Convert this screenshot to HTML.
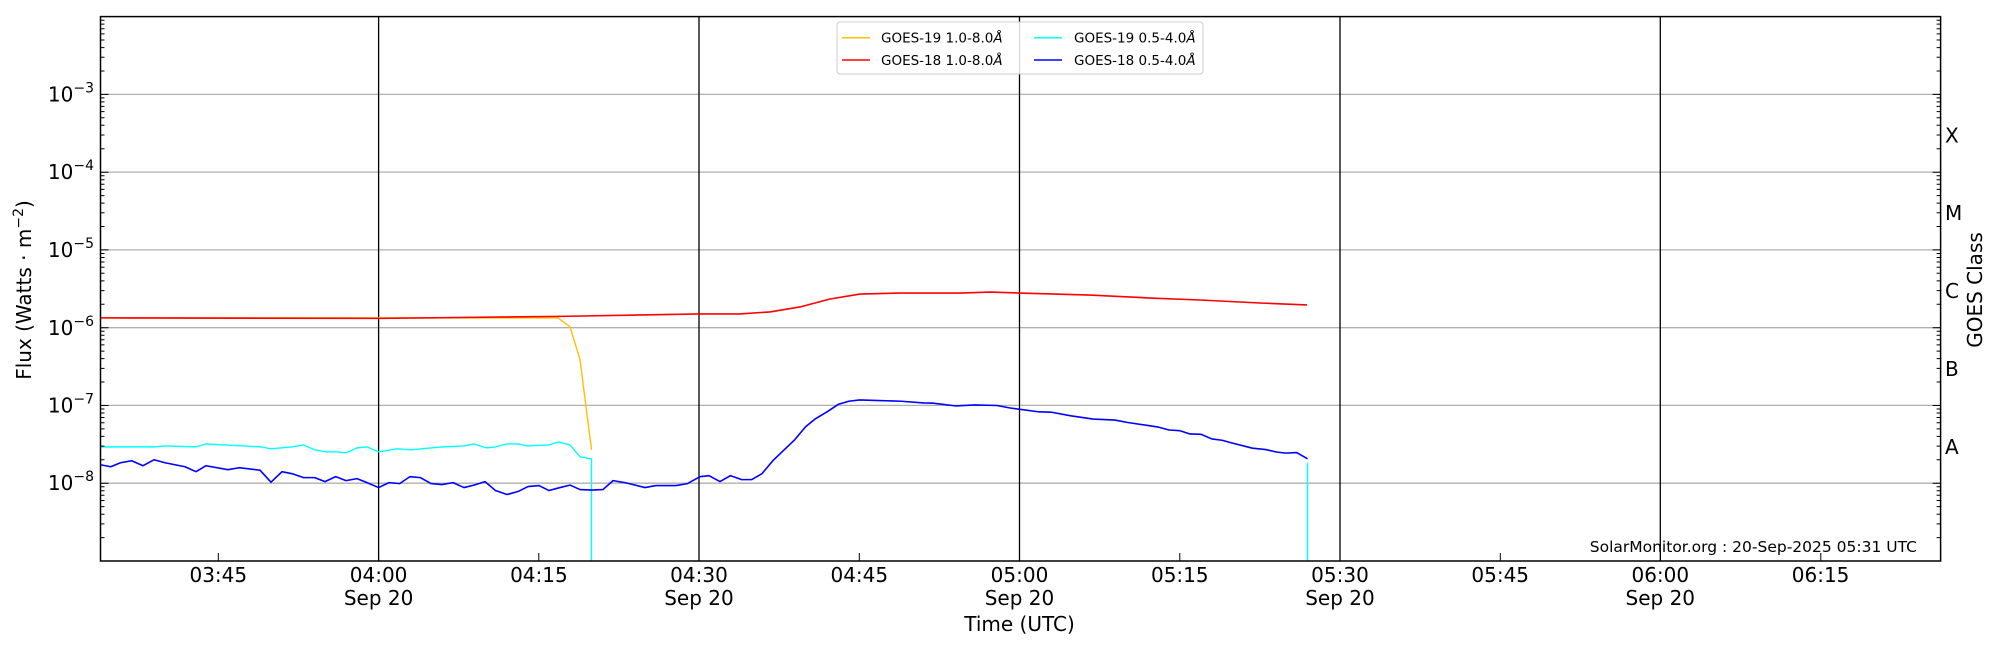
<!DOCTYPE html>
<html><head><meta charset="utf-8"><style>
html,body{margin:0;padding:0;background:#fff;}
svg{display:block;font-family:"DejaVu Sans","Liberation Sans",sans-serif;}
</style></head><body>
<svg id="s" width="2000" height="650" viewBox="0 0 2000 650" xmlns="http://www.w3.org/2000/svg">
<rect width="2000" height="650" fill="#fff"/>
<g stroke="#b0b0b0" stroke-width="1.3">
<line x1="100.5" x2="1940.6" y1="94.4" y2="94.4"/>
<line x1="100.5" x2="1940.6" y1="172.1" y2="172.1"/>
<line x1="100.5" x2="1940.6" y1="249.9" y2="249.9"/>
<line x1="100.5" x2="1940.6" y1="327.7" y2="327.7"/>
<line x1="100.5" x2="1940.6" y1="405.4" y2="405.4"/>
<line x1="100.5" x2="1940.6" y1="483.2" y2="483.2"/>
</g>
<g stroke="#000" stroke-width="1.3">
<line x1="378.6" x2="378.6" y1="16.6" y2="561"/>
<line x1="699" x2="699" y1="16.6" y2="561"/>
<line x1="1019.5" x2="1019.5" y1="16.6" y2="561"/>
<line x1="1340" x2="1340" y1="16.6" y2="561"/>
<line x1="1660.3" x2="1660.3" y1="16.6" y2="561"/>
</g>
<g fill="none" stroke-width="1.4" stroke-linejoin="round" transform="matrix(1,0,0,0.99234,0,1.32)">
<polyline stroke="#ffc000" points="101,319 558,319 570,328 580,361 591.5,452"/>
<polyline stroke="#00ffff" points="100.4,449 134,449 154,449 165,448 196,449 206,446 261,449 271,451 292,449 303.6,447 314.7,452 326,454 335,454 346,455 357,450 367,449 378.6,454 397,451 411,452 442,449 464,448 474,446 486,450 495.5,449 507,446 518,446 527,448 549,447 559,444 570,447 580,459 591.5,461 591.5,564"/>
<polyline stroke="#00ffff" points="1307.5,465 1307.5,564"/>
<polyline stroke="#ff0000" stroke-width="1.6" points="101,319 380,319.5 560,317.5 700,315 740,315 770,313 800,308 830,300 860,295 900,294 960,294 990,293 1020,294 1090,296 1150,299 1200,301 1260,304 1307,306"/>
<polyline stroke="#0000ff" stroke-width="1.6" points="100.4,467 110.7,469 120.5,465 131.7,463 143,468 154,462 165,465 185,469 196,474 206,468 228,472 239,470 260,472.5 271,484.6 282,474 292,476 303.6,480 314.7,480 325,484 335.7,479 346,483 357,481 367,485 378.6,490 389,485 399.6,486 410,479 420.5,480 431,486 442,487 453,485 464,490 474,487.5 485,484 495.5,493 507,497 518,494 528,489 539,488 549,493 560,490 570,487.5 580,492 591.5,492.5 603,492 613,483 625,485 645,490 656,488 676,488 687.5,486 700,479 709,478 720,484 730.4,478 741.7,482 751.5,482 762,476 773.7,462 794.8,441.7 805.6,428.7 815.4,420.7 827.7,413.3 838.5,406 848.8,403 859.6,401.7 879,402.3 901.4,403 923.5,404.7 933.3,405 955.4,407.7 975,406.7 997,407.3 1009.4,409.7 1019,411 1039,413.7 1051,414 1070.8,417.7 1093,421 1115,422 1127,424.3 1147,427.3 1158,429 1169,432 1180,432.7 1190,436 1201,436.3 1211.8,441 1222,442.3 1233,445.3 1252.5,450.3 1265.8,451.7 1277,454.3 1286,455.3 1296.7,454.7 1307.5,461"/>
</g>
<path id="ticks" stroke="#000" stroke-width="1" fill="none" d=""/>
<rect x="100.5" y="16.6" width="1840.1" height="544.4" fill="none" stroke="#000" stroke-width="1.5"/>
<g font-size="20" text-anchor="middle" fill="#000">
<text x="218.3" y="582">03:45</text>
<text x="378.6" y="582">04:00</text><text x="378.6" y="605">Sep 20</text>
<text x="538.9" y="582">04:15</text>
<text x="699" y="582">04:30</text><text x="699" y="605">Sep 20</text>
<text x="859.3" y="582">04:45</text>
<text x="1019.5" y="582">05:00</text><text x="1019.5" y="605">Sep 20</text>
<text x="1179.8" y="582">05:15</text>
<text x="1340" y="582">05:30</text><text x="1340" y="605">Sep 20</text>
<text x="1500.2" y="582">05:45</text>
<text x="1660.3" y="582">06:00</text><text x="1660.3" y="605">Sep 20</text>
<text x="1820.6" y="582">06:15</text>
<text x="1019.5" y="631">Time (UTC)</text>
</g>
<g font-size="20" text-anchor="end" fill="#000">
<text x="94" y="101.5">10<tspan dy="-9" font-size="14">−3</tspan></text>
<text x="94" y="179">10<tspan dy="-9" font-size="14">−4</tspan></text>
<text x="94" y="257">10<tspan dy="-9" font-size="14">−5</tspan></text>
<text x="94" y="335">10<tspan dy="-9" font-size="14">−6</tspan></text>
<text x="94" y="412.5">10<tspan dy="-9" font-size="14">−7</tspan></text>
<text x="94" y="490">10<tspan dy="-9" font-size="14">−8</tspan></text>
</g>
<text transform="translate(31,290) rotate(-90)" font-size="20" text-anchor="middle">Flux (Watts · m<tspan dy="-8" font-size="14">−2</tspan><tspan dy="8">)</tspan></text>
<g font-size="20" fill="#000">
<text x="1945" y="142.5">X</text>
<text x="1945" y="220">M</text>
<text x="1945" y="298">C</text>
<text x="1945" y="376">B</text>
<text x="1945" y="454">A</text>
</g>
<text transform="translate(1982,290) rotate(-90)" font-size="20" text-anchor="middle">GOES Class</text>
<text x="1917" y="552" font-size="15.5" text-anchor="end">SolarMonitor.org : 20-Sep-2025 05:31 UTC</text>
<rect x="837" y="22" width="366" height="52" rx="3" fill="#fff" fill-opacity="0.85" stroke="#ccc" stroke-width="1"/>
<g stroke-width="1.5">
<line x1="842" x2="870" y1="37.7" y2="37.7" stroke="#ffc000"/>
<line x1="842" x2="870" y1="60" y2="60" stroke="#ff0000"/>
<line x1="1034" x2="1062" y1="37.7" y2="37.7" stroke="#00ffff"/>
<line x1="1034" x2="1062" y1="60" y2="60" stroke="#0000ff"/>
</g>
<g font-size="13.5" fill="#000">
<text x="881" y="42.5">GOES-19 1.0-8.0<tspan font-style="italic">Å</tspan></text>
<text x="881" y="65">GOES-18 1.0-8.0<tspan font-style="italic">Å</tspan></text>
<text x="1074" y="42.5">GOES-19 0.5-4.0<tspan font-style="italic">Å</tspan></text>
<text x="1074" y="65">GOES-18 0.5-4.0<tspan font-style="italic">Å</tspan></text>
</g>
</svg>
<script>
var d="",L=100.5,R=1940.6,dec=77.77;
for(var k=0;k<7;k++){var base=561-k*dec;
 d+="M"+L+" "+base.toFixed(1)+"h8M"+R+" "+base.toFixed(1)+"h-8";
 for(var m=2;m<10;m++){var y=(base-Math.log10(m)*dec).toFixed(1);d+="M"+L+" "+y+"h4M"+R+" "+y+"h-4";}}
for(var i=0;i<11;i++){var x=(218.3+i*160.25).toFixed(1);d+="M"+x+" 561v-8";}
document.getElementById("ticks").setAttribute("d",d);
</script>
</body></html>
